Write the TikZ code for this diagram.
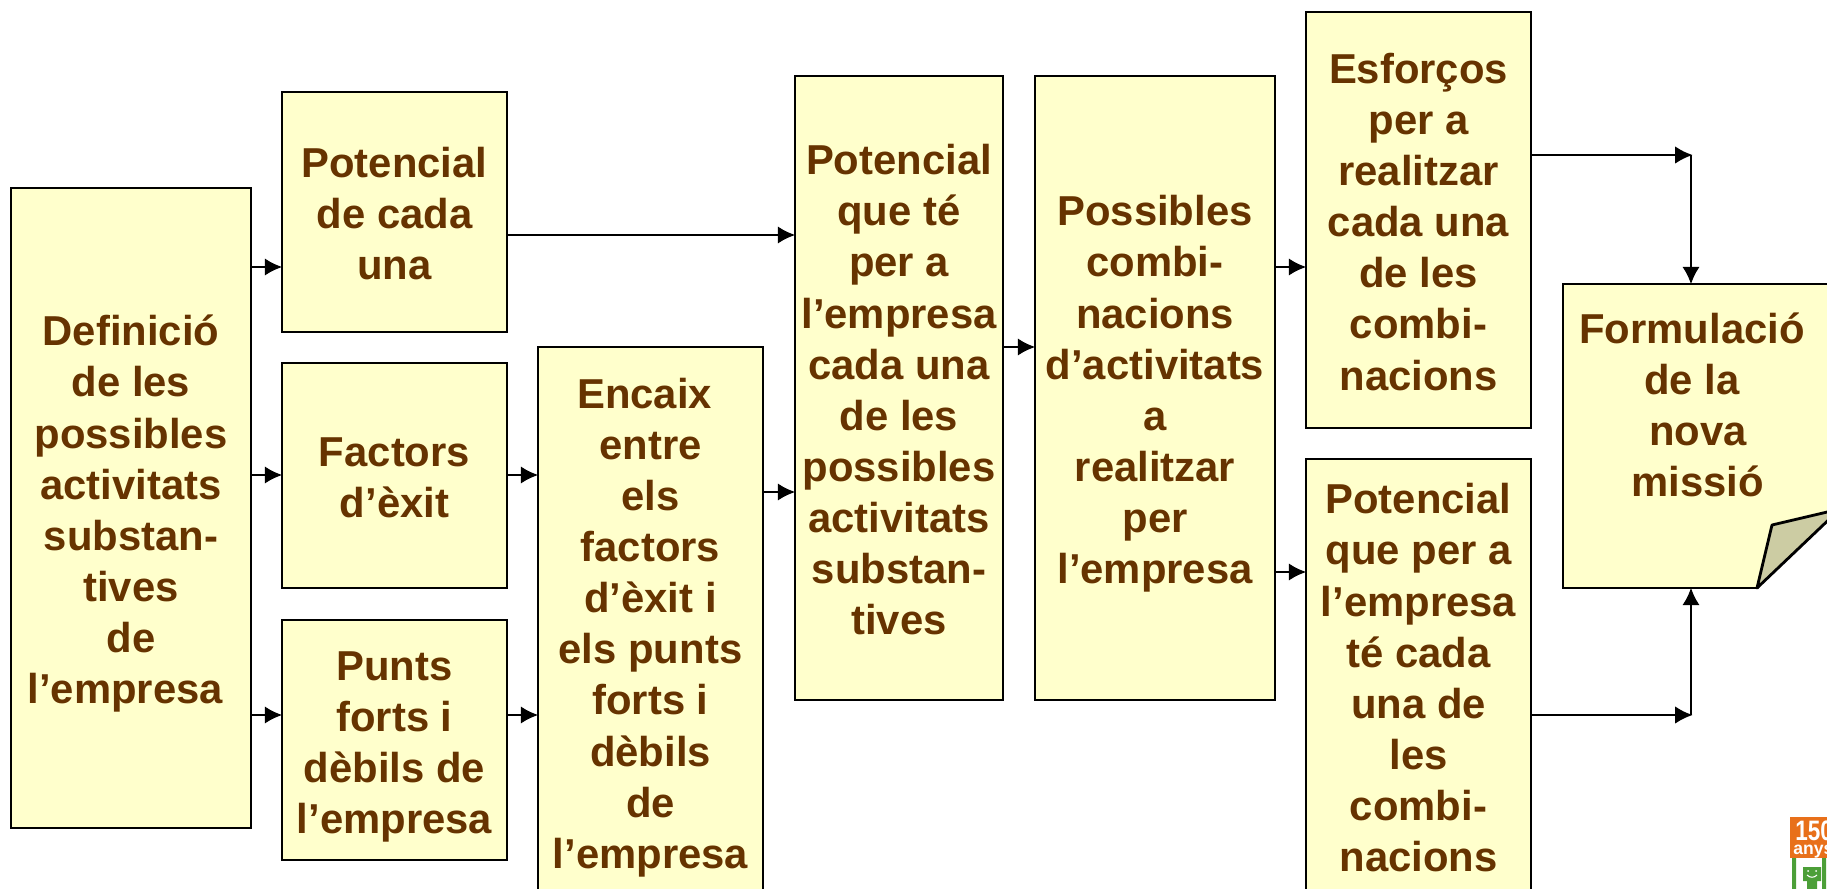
\documentclass[tikz,border=0pt]{standalone}
\usepackage{fontspec}
\setmainfont{Liberation Sans}
\usetikzlibrary{arrows.meta}
\definecolor{boxfill}{HTML}{FFFFCC}
\definecolor{boxtext}{HTML}{663300}
\definecolor{foldfill}{HTML}{CCCCA3}
\definecolor{logoorange}{HTML}{E8701A}
\definecolor{logogreen}{HTML}{4C9F38}
\newcommand{\tsp}{\hspace*{0.278em}}
\newcommand{\hd}{\rule{0pt}{24pt}}
\tikzset{
  box/.style={draw=black,line width=1.6pt,fill=boxfill,
    execute at end node={\rule[-5pt]{0pt}{5pt}}},
  boxsize/.style 2 args={minimum width=#1*0.02cm,minimum height=#2*0.02cm},
  label/.style={text=boxtext,align=center,inner sep=0pt,
    font=\fontsize{23.8}{29.1}\selectfont\bfseries},
  arr/.style={line width=1.5pt,shorten >=-1pt,-{Latex[length=10pt,width=10pt]}}
}
\begin{document}
\begin{tikzpicture}[x=0.02cm,y=-0.02cm]
  \useasboundingbox (0,0) rectangle (1827,889);

  \begin{scope}[every node/.style={box,label}]
    \node (defi)[boxsize={240}{640}] at (131,508) {\hd Definició\\de les\tsp\\possibles\\activitats\\substan-\\tives\\de\\l’empresa\tsp};
    \node (pota)[boxsize={225}{240}] at (394.5,212) {\hd Potencial\\de cada\\una};
    \node (fact)[boxsize={225}{225}] at (394.5,475.5) {\hd Factors\\d’èxit};
    \node (punt)[boxsize={225}{240}] at (394.5,740) {\hd Punts\\forts i\\dèbils de\\l’empresa};
    \node (enca)[boxsize={225}{549}] at (650.5,621.5) {\hd Encaix\tsp\\entre\\els\\factors\\d’èxit i\\els punts\\forts i\\dèbils\\de\\l’empresa};
    \node (potb)[boxsize={208}{624}] at (899,388) {\hd Potencial\\que té\\per a\tsp\\l’empresa\\cada una\\de les\\possibles\\activitats\\substan-\\tives};
    \node (poss)[boxsize={240}{624}] at (1155,388) {\hd Possibles\\combi-\\nacions\\d’activitats\\a\\realitzar\\per\\l’empresa};
    \node (esfo)[boxsize={225}{416}] at (1418.5,220) {\hd Esforços\\per a\\realitzar\\cada una\\de les\\combi-\\nacions};
    \node (potc)[boxsize={225}{434}] at (1418.5,676) {\hd Potencial\\que per a\\l’empresa\\té cada\\una de\\les\\combi-\\nacions};
    \node (form)[boxsize={300}{304}] at (1713,436) {};
  \end{scope}

  % doblec de la nota
  \fill[white] (1757,590) -- (1870,590) -- (1870,476) -- cycle;
  \draw[line width=1.6pt,line join=round,fill=foldfill] (1757,588) -- (1772,525) -- (1840,509) -- cycle;
  \node (formtext)[label] at (1692,405) {Formulació\\de la\\\tsp nova\\\tsp missió};

  \coordinate (cornera) at (1691,155);
  \coordinate (cornerb) at (1691,715);

  \begin{scope}
    \path [arr] (defi.east |- 0,267) edge (pota.west |- 0,267);
    \path [arr] (defi.east |- 0,475) edge (fact.west |- 0,475);
    \path [arr] (defi.east |- 0,715) edge (punt.west |- 0,715);
    \path [arr] (pota.east |- 0,235) edge (potb.west |- 0,235);
    \path [arr] (fact.east |- 0,475) edge (enca.west |- 0,475);
    \path [arr] (punt.east |- 0,715) edge (enca.west |- 0,715);
    \path [arr] (enca.east |- 0,492) edge (potb.west |- 0,492);
    \path [arr] (potb.east |- 0,347) edge (poss.west |- 0,347);
    \path [arr] (poss.east |- 0,267) edge (esfo.west |- 0,267);
    \path [arr] (poss.east |- 0,572) edge (potc.west |- 0,572);
    \path [arr] (esfo.east |- cornera) edge (cornera);
    \path [arr] (potc.east |- cornerb) edge (cornerb);
    \path [arr] (cornera) edge (cornera |- form.north);
    \path [arr] (cornerb) edge (cornerb |- form.south);
  \end{scope}

  % logo
  \fill[logoorange] (1790,817) rectangle (1827,858);
  \node (logoa)[anchor=base west,inner sep=0pt,text=white,xscale=0.8,font=\fontsize{16}{16}\selectfont\bfseries] at (1795,840) {150};
  \node (logob)[anchor=base west,inner sep=0pt,text=white,font=\fontsize{10}{10}\selectfont\bfseries] at (1793,854) {anys};
  \fill[logogreen] (1792,858) rectangle (1796,889) (1822,858) rectangle (1826,889)
    (1803,867) rectangle (1821,881) (1807,881) rectangle (1817,889);
  \draw[white,line width=0.6pt] (1807,875) .. controls (1810,878) and (1814,878) .. (1817,875);
  \fill[white] (1808,871) circle (1) (1816,871) circle (1);
\end{tikzpicture}
\end{document}
